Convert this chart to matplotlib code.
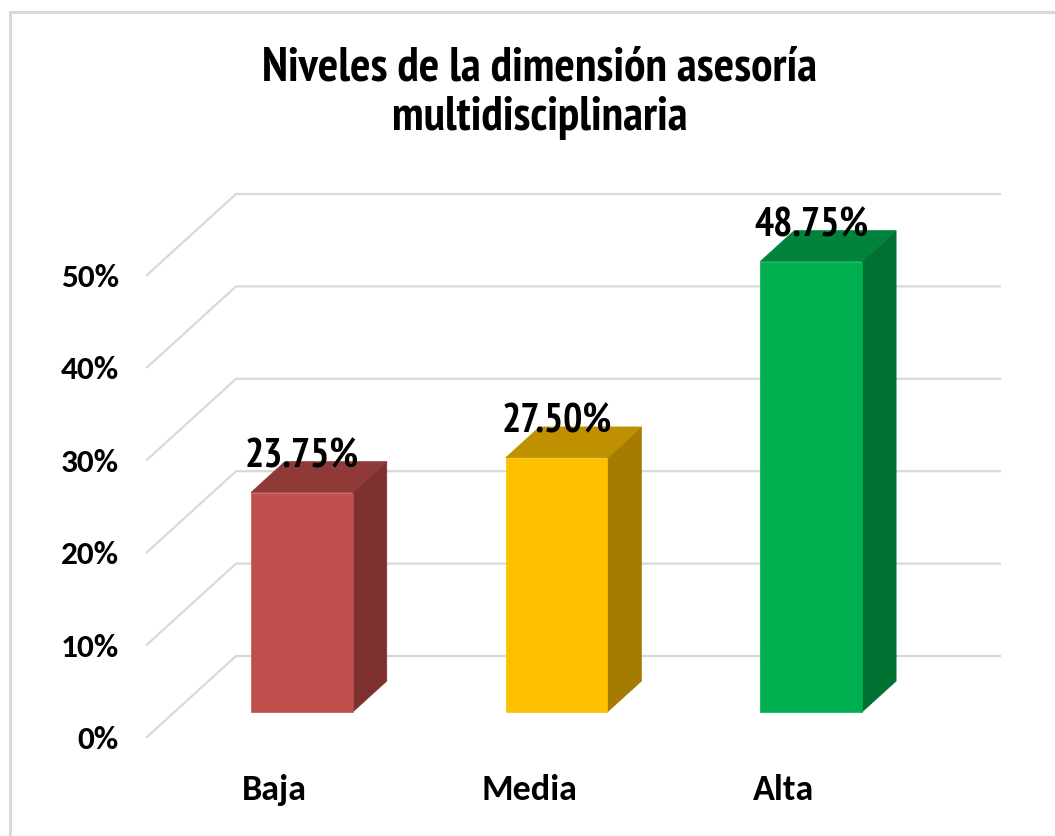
import matplotlib
matplotlib.use('Agg')
import matplotlib.pyplot as plt
from matplotlib.patches import Polygon, Rectangle
from matplotlib import font_manager

# datos
categorias = ['Baja', 'Media', 'Alta']
porcentajes = [23.75, 27.50, 48.75]
ticks_y = [0, 10, 20, 30, 40, 50]
etiquetas_y = ['0%', '10%', '20%', '30%', '40%', '50%']
titulo = 'Niveles de la dimensión asesoría\nmultidisciplinaria'

colores_frente = ['#C0504D', '#FFC000', '#00B050']
colores_arriba = ['#8F3A38', '#BF9000', '#00843C']
colores_lado = ['#7E302E', '#A67C00', '#007132']


def elegir_fuente(preferidas):
    negritas = {f.name for f in font_manager.fontManager.ttflist
                if f.weight == 700 and '[' not in f.fname}
    for n in preferidas:
        if n in negritas:
            return [n, 'DejaVu Sans']
    return ['Liberation Sans', 'DejaVu Sans']


fuente_narrow = elegir_fuente(['Liberation Sans Narrow', 'Arial Narrow', 'PT Sans Narrow',
                               'Roboto Condensed', 'Archivo Narrow', 'Asap Condensed'])
fuente_calibri = elegir_fuente(['Carlito', 'Calibri', 'PT Sans Narrow', 'Roboto Condensed',
                                'Asap Condensed'])
plt.rcParams['font.family'] = fuente_narrow

W, H = 1055, 836
fig = plt.figure(figsize=(W / 100, H / 100), dpi=100)
fig.patch.set_facecolor('white')

# plano frontal del grafico (en pixeles de la figura)
x_izq, x_der = 147, 911
y_cero, y_50 = H - 737, H - 275
ax = fig.add_axes([x_izq / W, y_cero / H, (x_der - x_izq) / W, (y_50 - y_cero) / H])
ax.set_xlim(0, len(categorias))
ax.set_ylim(0, 50)
ax.axis('off')

# profundidad en unidades de datos (89 px a la derecha, 81 px arriba)
px_x = (x_der - x_izq) / len(categorias)
px_y = (y_50 - y_cero) / 50
DX = 89 / px_x
DY = 81 / px_y


def proy(x, v, z):
    return (x + z * DX, v + z * DY)


grid_color = '#D9D9D9'
for v in ticks_y:
    a = proy(0, v, 0)
    b = proy(0, v, 1)
    c = proy(len(categorias), v, 1)
    ax.plot([a[0], b[0], c[0]], [a[1], b[1], c[1]], color=grid_color, lw=1.6,
            solid_joinstyle='miter', clip_on=False, zorder=1)

for v, lab in zip(ticks_y, etiquetas_y):
    ax.text(-28 / px_x, v - 3 / px_y, lab, ha='right', va='center', fontsize=24,
            fontweight='bold', family=fuente_calibri, clip_on=False)

ancho = 0.40
z0, z1 = 0.309, 0.691
for i, (cat, val) in enumerate(zip(categorias, porcentajes)):
    x0 = i + 0.5 - ancho / 2
    x1 = i + 0.5 + ancho / 2
    frente = [proy(x0, 0, z0), proy(x1, 0, z0), proy(x1, val, z0), proy(x0, val, z0)]
    arriba = [proy(x0, val, z0), proy(x1, val, z0), proy(x1, val, z1), proy(x0, val, z1)]
    lado = [proy(x1, 0, z0), proy(x1, 0, z1), proy(x1, val, z1), proy(x1, val, z0)]
    for pts, col in [(lado, colores_lado[i]), (arriba, colores_arriba[i]), (frente, colores_frente[i])]:
        ax.add_patch(Polygon(pts, closed=True, facecolor=col, edgecolor=col, lw=0.5,
                             clip_on=False, zorder=3))
    cx, cy = proy(i + 0.5, val, z0)
    ax.text(cx, cy + 25 / px_y, f'{val:.2f}%', ha='center', va='baseline', fontsize=29,
            fontweight='bold', clip_on=False, zorder=5)
    ax.text(i + 0.5, -53 / px_y, cat, ha='center', va='center', fontsize=26,
            fontweight='bold', family=fuente_calibri, clip_on=False)

fig.text(540 / W, 1 - 93 / H, titulo, ha='center', va='center', fontsize=34.5,
         fontweight='bold', linespacing=1.15)

# borde del area del grafico
fig.patches.append(Rectangle((9.5 / W, -0.05), 1.1, 1 - 12.5 / H + 0.05, transform=fig.transFigure,
                             fill=False, edgecolor='#D9D9D9', lw=2.2, zorder=0))

fig.savefig('out.png', dpi=100)
plt.close(fig)
